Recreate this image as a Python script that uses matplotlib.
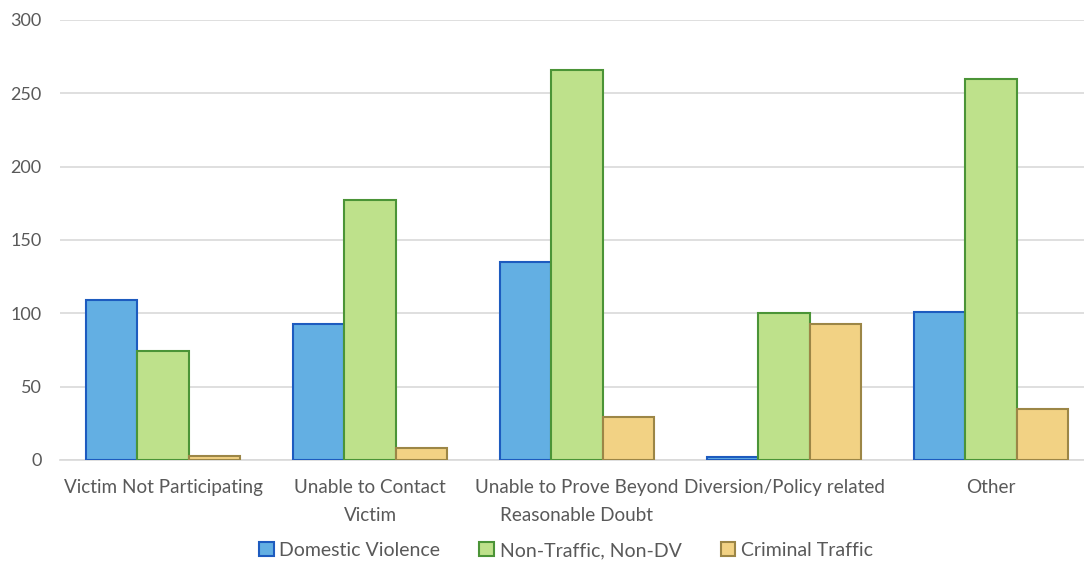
import numpy as np
import matplotlib
matplotlib.use("Agg")
import matplotlib.pyplot as plt

categories = ["Victim Not Participating", "Unable to Contact\nVictim",
              "Unable to Prove Beyond\nReasonable Doubt", "Diversion/Policy related", "Other"]
domestic_violence = [109, 93, 135, 2, 101]
non_traffic = [74, 177, 266, 100, 260]
criminal_traffic = [3, 8, 29, 93, 35]

series = [
    ("Domestic Violence", domestic_violence, "#63AFE3", "#1D5BBF"),
    ("Non-Traffic, Non-DV", non_traffic, "#BEE18B", "#4B9437"),
    ("Criminal Traffic", criminal_traffic, "#F2D284", "#9C8646"),
]

plt.rcParams['font.family'] = ['Lato', 'DejaVu Sans']
txt = "#595959"

fig = plt.figure(figsize=(10.84, 5.62), dpi=100)
ax = fig.add_axes([59.5 / 1084, 102 / 562, 1035 / 1084, 440 / 562])

x = np.arange(len(categories))
w = 0.248
for i, (name, vals, fc, ec) in enumerate(series):
    ax.bar(x + (i - 1) * w, vals, w, color=fc, edgecolor=ec, linewidth=1.5,
           label=name, zorder=3)

ax.set_xlim(-0.5, len(categories) - 0.5)
ax.set_ylim(0, 300)
ax.set_yticks(range(0, 301, 50))
ax.grid(axis="y", color="#D9D9D9", linewidth=1.2, zorder=0)
for s in ["top", "right", "left"]:
    ax.spines[s].set_visible(False)
ax.spines["bottom"].set_color("#D9D9D9")
ax.spines["bottom"].set_linewidth(1.2)
ax.tick_params(length=0, colors=txt)
ax.tick_params(axis="y", pad=13, labelsize=13)
ax.tick_params(axis="x", pad=14, labelsize=13.6)
ax.set_xticks(x)
ax.set_xticklabels(categories, linespacing=1.75)

ax.legend(loc="lower center", bbox_to_anchor=(0.5 - 11 / 1035, -0.265), ncol=3, frameon=False,
          fontsize=14, labelcolor=txt, handlelength=0.75, handleheight=0.75,
          handletextpad=0.3, columnspacing=2.0)

fig.savefig("out.png", dpi=100)
